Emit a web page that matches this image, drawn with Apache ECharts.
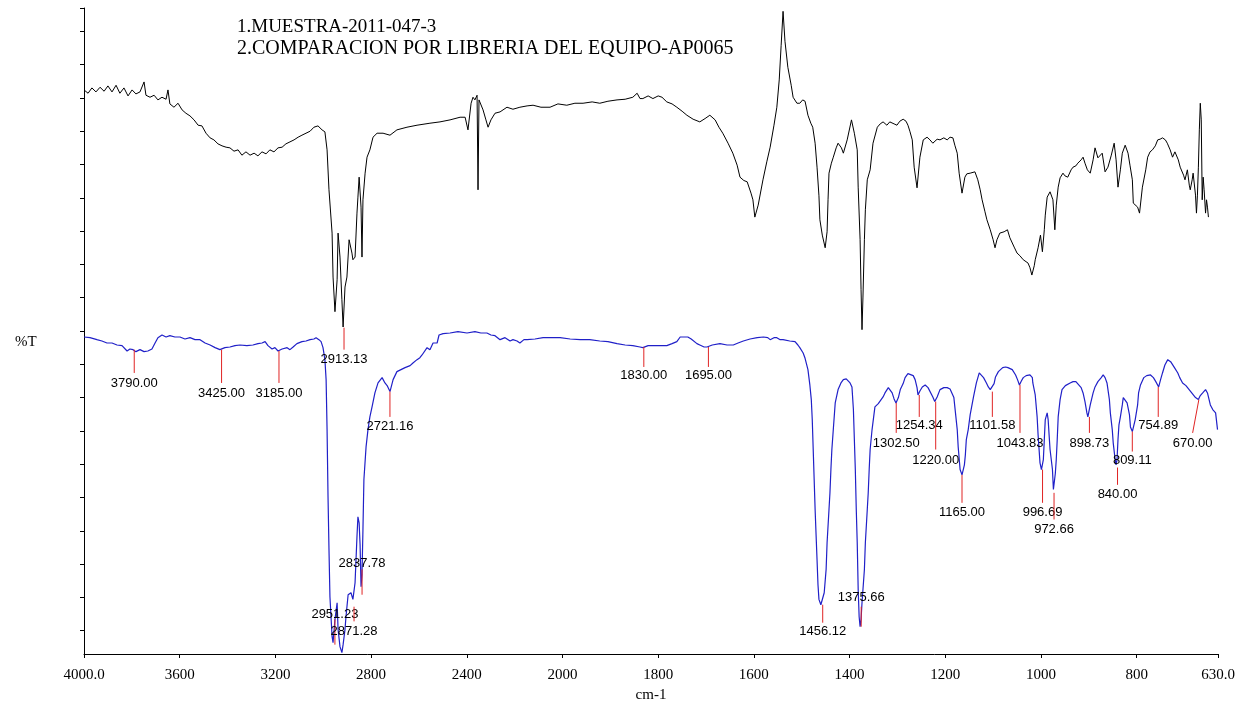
<!DOCTYPE html>
<html>
<head>
<meta charset="utf-8">
<script src="https://cdn.jsdelivr.net/npm/echarts@6/dist/echarts.min.js"></script>
<style>html,body{margin:0;padding:0;background:#fff;}#c{width:1254px;height:702px;}</style>
</head>
<body>
<div id="c"></div>
<script>
// ---- DATA (wavenumber cm-1, %T in arbitrary chart units) ----
const titleLines = ['1.MUESTRA-2011-047-3', '2.COMPARACION POR LIBRERIA DEL EQUIPO-AP0065'];
const tickWavenumbers = [4000, 3600, 3200, 2800, 2400, 2000, 1800, 1600, 1400, 1200, 1000, 800, 630];
const tickLabels = ['4000.0', '3600', '3200', '2800', '2400', '2000', '1800', '1600', '1400', '1200', '1000', '800', '630.0'];
const yTickValues = [0,5,10,15,20,25,30,35,40,45,50,55,60,65,70,75,80,85,90,93.5];

// Sample spectrum (black)
const sampleSpectrum = [[4000,81.2],[3983,80.7],[3967,81.5],[3950,80.9],[3933,81.6],[3916,81.0],[3900,81.8],[3883,80.9],[3866,81.9],[3850,80.7],[3833,81.5],[3816,80.3],[3799,81.2],[3783,80.6],[3766,80.9],[3749,82.4],[3741,80.4],[3724,80.1],[3707,80.4],[3691,79.7],[3674,80.1],[3657,79.8],[3649,81.2],[3641,79.1],[3624,78.6],[3607,79.2],[3590,78.2],[3574,77.7],[3557,77.3],[3540,76.7],[3523,75.9],[3507,75.8],[3490,74.7],[3473,74.0],[3457,73.7],[3440,73.1],[3423,72.8],[3406,72.6],[3390,72.5],[3373,72.0],[3356,72.2],[3340,71.4],[3323,71.9],[3306,71.4],[3289,71.7],[3273,71.3],[3256,71.9],[3239,71.6],[3223,72.2],[3206,71.9],[3189,72.5],[3172,72.6],[3156,73.1],[3139,73.4],[3122,73.7],[3105,74.1],[3089,74.4],[3072,74.7],[3055,75.0],[3039,75.6],[3022,75.8],[3005,75.2],[2993,74.9],[2984,72.2],[2976,66.2],[2963,59.7],[2959,53.1],[2951,47.9],[2942,52.7],[2938,59.7],[2930,56.1],[2922,49.7],[2917,45.6],[2909,51.6],[2901,53.1],[2892,58.7],[2880,56.7],[2876,55.7],[2867,56.1],[2859,62.7],[2855,65.1],[2850,68.1],[2842,63.6],[2838,56.1],[2834,64.7],[2825,68.7],[2817,71.1],[2805,72.2],[2792,74.1],[2775,74.7],[2750,74.7],[2721,74.4],[2692,75.2],[2650,75.6],[2608,75.9],[2554,76.2],[2512,76.4],[2470,76.7],[2428,77.1],[2407,77.1],[2395,75.2],[2382,79.2],[2374,80.1],[2366,79.7],[2357,80.4],[2353,66.2],[2349,79.7],[2341,79.9],[2332,78.2],[2320,76.7],[2311,75.6],[2299,76.7],[2282,77.7],[2261,77.9],[2232,78.6],[2207,78.3],[2178,78.6],[2148,78.8],[2123,78.9],[2090,78.6],[2052,78.6],[2019,79.1],[1991,78.9],[1974,79.2],[1957,79.2],[1938,79.4],[1922,79.2],[1905,79.5],[1886,79.7],[1869,79.8],[1853,80.1],[1844,80.7],[1838,79.9],[1832,79.9],[1821,80.3],[1811,79.9],[1800,80.3],[1792,80.1],[1782,79.4],[1771,79.1],[1761,78.6],[1750,78.0],[1740,77.4],[1727,76.8],[1713,76.4],[1702,76.9],[1692,77.4],[1681,76.7],[1673,75.6],[1665,74.7],[1654,73.2],[1644,71.7],[1635,69.9],[1629,68.1],[1621,67.6],[1614,67.4],[1606,65.7],[1602,64.7],[1598,62.1],[1591,63.9],[1581,67.7],[1573,70.4],[1566,72.6],[1558,75.9],[1552,78.6],[1547,82.7],[1543,87.9],[1539,93.0],[1535,88.5],[1529,84.6],[1522,81.9],[1518,80.1],[1510,79.2],[1504,79.2],[1498,79.7],[1493,79.5],[1487,77.4],[1481,76.2],[1477,75.6],[1472,73.2],[1468,69.6],[1464,65.3],[1462,61.7],[1457,59.4],[1451,57.5],[1447,59.9],[1445,64.7],[1443,68.7],[1438,70.2],[1434,71.1],[1428,72.5],[1424,73.2],[1417,72.5],[1413,71.7],[1405,73.7],[1396,76.7],[1390,74.7],[1384,72.2],[1382,66.6],[1378,58.7],[1376,51.2],[1374,45.2],[1372,50.1],[1369,58.7],[1367,63.2],[1363,67.7],[1357,69.2],[1351,73.2],[1342,75.6],[1336,76.1],[1330,76.4],[1322,75.9],[1316,76.4],[1307,76.1],[1301,75.9],[1295,76.5],[1288,76.8],[1282,76.5],[1278,75.9],[1274,75.0],[1269,73.7],[1265,69.6],[1259,66.5],[1253,71.1],[1246,73.7],[1238,74.1],[1232,73.7],[1226,73.2],[1217,73.8],[1211,73.7],[1203,74.0],[1196,73.7],[1190,74.1],[1184,74.0],[1180,72.9],[1175,71.7],[1171,68.7],[1165,65.7],[1159,68.1],[1155,68.6],[1148,68.7],[1138,68.9],[1132,67.7],[1127,66.2],[1123,64.7],[1117,62.9],[1113,61.7],[1106,60.2],[1100,58.7],[1096,57.5],[1092,58.7],[1086,59.7],[1077,59.9],[1070,60.2],[1065,59.0],[1056,57.6],[1050,56.7],[1044,56.3],[1037,55.7],[1033,56.0],[1027,55.2],[1023,54.5],[1019,53.4],[1014,54.8],[1012,55.7],[1006,57.5],[1001,59.4],[997,56.9],[993,60.2],[991,62.4],[987,65.1],[981,65.9],[975,64.7],[971,60.2],[968,63.9],[964,66.6],[960,68.0],[954,68.7],[950,68.3],[944,68.1],[937,69.2],[933,69.6],[927,69.8],[923,70.2],[916,70.7],[912,71.1],[908,70.2],[903,69.2],[897,68.7],[891,70.7],[887,72.5],[881,71.0],[877,71.3],[872,71.7],[866,68.9],[860,69.6],[853,71.4],[847,73.2],[843,70.7],[839,66.6],[834,69.2],[830,71.7],[824,72.9],[818,71.7],[814,69.9],[809,67.7],[807,64.2],[803,63.9],[798,63.6],[794,62.7],[788,66.6],[781,69.2],[777,71.1],[772,71.9],[767,72.2],[761,72.8],[756,73.7],[751,73.8],[746,74.0],[740,73.7],[736,73.2],[730,72.2],[725,71.1],[720,71.9],[713,70.7],[709,69.6],[702,68.4],[699,67.7],[694,69.2],[690,66.9],[688,66.2],[684,67.7],[682,68.7],[677,65.4],[675,62.7],[673,65.4],[671,69.6],[669,75.2],[667,79.2],[665,76.7],[663,64.7],[661,68.1],[659,66.2],[656,62.7],[654,64.7],[652,63.6],[650,62.1]];

// Library reference spectrum (blue)
const librarySpectrum = [[4000,44.1],[3975,44.0],[3946,43.7],[3925,43.5],[3904,43.2],[3883,43.2],[3862,42.9],[3841,42.8],[3820,42.0],[3808,42.3],[3795,42.2],[3783,41.9],[3766,42.2],[3749,41.9],[3733,42.0],[3716,42.3],[3703,43.2],[3691,44.0],[3674,44.4],[3657,44.1],[3641,44.3],[3620,44.1],[3599,44.1],[3578,43.8],[3557,44.0],[3536,43.7],[3515,43.7],[3494,43.2],[3473,42.9],[3452,42.5],[3432,42.2],[3411,42.5],[3390,42.6],[3369,42.8],[3348,42.9],[3319,42.8],[3294,42.9],[3273,43.1],[3256,43.2],[3243,43.4],[3231,42.8],[3214,42.3],[3202,42.5],[3189,42.0],[3172,42.3],[3151,42.5],[3139,42.2],[3126,42.6],[3110,43.1],[3089,43.4],[3072,43.5],[3055,43.7],[3039,43.8],[3030,44.0],[3018,43.7],[3009,43.4],[3001,42.5],[2993,40.7],[2988,37.7],[2984,30.2],[2980,20.1],[2976,12.2],[2972,5.1],[2963,-0.9],[2959,-1.8],[2951,1.7],[2942,4.2],[2938,0.2],[2930,-2.4],[2922,-3.3],[2917,-2.1],[2909,0.2],[2905,2.1],[2896,5.4],[2884,5.7],[2876,4.7],[2867,7.2],[2859,14.1],[2855,17.1],[2850,16.2],[2846,12.9],[2842,6.6],[2838,8.4],[2834,15.2],[2830,22.7],[2821,27.6],[2813,30.2],[2805,32.1],[2796,33.6],[2784,35.7],[2771,37.2],[2754,38.0],[2742,37.2],[2733,36.8],[2721,35.9],[2708,37.7],[2692,38.9],[2675,39.2],[2658,39.5],[2637,39.8],[2625,40.2],[2608,40.7],[2596,41.0],[2587,41.4],[2566,42.5],[2554,42.2],[2541,43.2],[2524,43.2],[2516,44.4],[2499,44.6],[2470,44.7],[2437,44.9],[2399,44.7],[2366,44.9],[2341,44.7],[2316,44.7],[2299,44.4],[2282,44.3],[2261,43.7],[2240,44.0],[2219,43.5],[2207,43.7],[2190,43.5],[2178,43.2],[2161,43.7],[2148,43.7],[2115,43.8],[2081,44.0],[2044,44.0],[2010,44.0],[1984,43.8],[1963,43.7],[1943,43.7],[1922,43.5],[1905,43.4],[1886,43.1],[1869,42.9],[1853,42.8],[1838,42.6],[1832,42.5],[1821,42.8],[1811,42.8],[1796,42.8],[1782,42.8],[1771,43.1],[1761,43.4],[1754,44.1],[1746,44.1],[1738,44.1],[1731,43.8],[1727,43.7],[1719,43.1],[1713,42.9],[1704,42.6],[1698,42.6],[1687,42.9],[1671,43.1],[1656,42.9],[1643,42.9],[1633,43.2],[1622,43.5],[1608,43.8],[1593,44.0],[1580,44.1],[1571,44.0],[1566,43.7],[1558,44.0],[1552,44.0],[1545,43.7],[1539,43.7],[1525,43.5],[1514,43.4],[1508,42.9],[1504,42.5],[1497,41.7],[1493,40.9],[1487,39.2],[1483,36.9],[1480,34.7],[1478,31.7],[1476,27.2],[1474,22.7],[1472,18.2],[1470,14.4],[1468,10.7],[1466,6.9],[1464,4.7],[1460,3.9],[1457,4.1],[1453,5.7],[1449,9.2],[1447,13.2],[1443,18.2],[1441,20.7],[1439,24.2],[1437,27.2],[1434,30.2],[1430,34.2],[1424,36.2],[1418,37.2],[1413,37.7],[1407,37.8],[1403,37.7],[1399,37.2],[1395,36.6],[1392,33.2],[1390,28.7],[1388,24.2],[1386,18.2],[1384,13.2],[1382,6.2],[1380,2.1],[1378,0.6],[1376,1.7],[1374,4.2],[1369,9.2],[1367,13.2],[1363,18.2],[1361,20.7],[1359,24.2],[1357,27.2],[1353,30.2],[1347,33.6],[1340,34.1],[1336,34.2],[1330,35.1],[1326,35.7],[1319,36.5],[1315,36.3],[1311,35.7],[1307,34.8],[1303,34.2],[1298,35.0],[1294,36.2],[1288,37.1],[1284,38.0],[1278,38.6],[1274,38.7],[1267,38.3],[1263,37.7],[1259,36.5],[1257,35.4],[1253,36.0],[1248,36.6],[1242,36.9],[1236,36.5],[1232,36.2],[1226,35.1],[1222,34.4],[1217,35.1],[1211,36.2],[1203,36.5],[1196,36.5],[1190,36.3],[1186,36.2],[1182,35.0],[1180,33.6],[1175,30.2],[1173,27.6],[1169,24.2],[1165,23.4],[1160,24.9],[1158,26.4],[1156,28.7],[1152,30.2],[1148,32.4],[1141,35.1],[1135,37.2],[1129,38.7],[1125,38.4],[1120,38.0],[1114,37.2],[1110,36.6],[1106,36.2],[1102,35.9],[1098,37.1],[1095,38.1],[1089,38.9],[1086,39.2],[1080,39.5],[1074,39.6],[1069,39.5],[1060,39.2],[1053,38.4],[1049,37.7],[1045,36.9],[1041,37.5],[1037,38.0],[1031,38.3],[1023,38.4],[1018,38.0],[1017,37.2],[1012,35.4],[1008,32.1],[1006,29.4],[1002,25.2],[999,24.2],[997,24.2],[995,25.7],[993,28.7],[991,31.7],[987,32.7],[985,31.7],[983,29.4],[981,27.2],[976,24.2],[974,21.2],[972,21.2],[970,23.6],[968,25.7],[966,28.7],[964,32.1],[960,34.7],[956,36.2],[949,36.8],[945,36.9],[939,37.2],[933,37.4],[927,37.4],[923,37.2],[916,36.5],[912,35.7],[908,34.4],[904,32.7],[902,32.1],[897,33.9],[891,35.7],[887,36.6],[881,37.4],[874,38.0],[870,38.4],[866,38.0],[862,37.2],[857,34.7],[855,32.7],[851,30.2],[849,28.2],[845,25.7],[843,24.9],[841,25.7],[839,28.7],[837,30.9],[834,32.1],[830,33.9],[828,35.0],[824,34.8],[820,34.2],[815,32.4],[813,30.6],[809,29.9],[807,30.5],[803,31.7],[798,33.9],[796,35.7],[792,36.9],[785,38.0],[779,38.3],[771,38.4],[765,38.0],[760,37.4],[754,36.6],[750,37.7],[746,38.7],[741,39.9],[735,40.7],[729,40.4],[725,40.2],[721,39.5],[714,38.7],[710,38.0],[704,37.2],[697,36.8],[693,36.5],[687,35.9],[683,35.7],[677,35.0],[671,34.7],[667,35.3],[662,35.7],[656,36.2],[652,35.7],[650,35.1],[646,33.9],[641,33.2],[637,33.0],[635,32.7],[631,30.2]];

// Peak annotations
const peakLabels = ['3790.00','3425.00','3185.00','2951.23','2913.13','2871.28','2837.78','2721.16','1830.00','1695.00','1456.12','1375.66','1302.50','1254.34','1220.00','1165.00','1101.58','1043.83','996.69','972.66','898.73','840.00','809.11','754.89','670.00'];
const peakWavenumbers = [3790,3425,3185,2951.23,2913.13,2871.28,2837.78,2721.16,1830,1695,1456.12,1375.66,1302.5,1254.34,1220,1165,1101.58,1043.83,996.69,972.66,898.73,840,809.11,754.89,670];
const peakLabelWavenumbers = [3790,3425,3185,2951.23,2913.13,2871.28,2837.78,2721.16,1830,1695,1456.12,1375.66,1302.5,1254.34,1220,1165,1101.58,1043.83,996.69,972.66,898.73,840,809.11,754.89,683];
const peakTopT =    [42.2,42.2,42.0,1.7,45.5,3.6,9.2,35.9,42.6,42.6,3.9,3.6,34.2,35.4,34.4,23.4,35.9,36.9,24.2,20.7,32.1,24.5,29.9,36.6,34.7];
const peakBottomT = [38.7,37.2,37.2,-2.1,42.2,1.4,5.4,32.1,39.6,39.6,1.2,0.6,29.7,32.1,27.2,19.2,32.1,29.7,19.2,16.7,29.7,21.9,26.9,32.1,29.7];
const peakLabelT =  [37.5,36.0,36.0,2.7,41.0,0.2,10.4,30.9,38.6,38.6,0.2,5.3,28.4,31.1,25.8,18.0,31.1,28.4,18.0,15.5,28.4,20.7,25.8,31.1,28.4];

// ---- Axis transform: spectrometer x scale changes at 2000 cm-1 (400/div above, 200/div below)
function xu(w) { return w >= 2000 ? (4000 - w) / 400 : 5 + (2000 - w) / 200; }
const xTickPos = tickWavenumbers.map(xu);

const chart = echarts.init(document.getElementById('c'), null, { renderer: 'canvas' });
const serif = '"Liberation Serif", "Times New Roman", serif';
const sans = '"Liberation Sans", Arial, sans-serif';

chart.setOption({
  animation: false,
  backgroundColor: '#fff',
  title: {
    text: '{a|' + titleLines[0] + '}\n{b|' + titleLines[1] + '}',
    left: 237, top: 16, padding: 0,
    textStyle: {
      fontFamily: serif, fontWeight: 'normal', color: '#000',
      rich: {
        a: { fontFamily: serif, fontSize: 19, lineHeight: 22, color: '#000' },
        b: { fontFamily: serif, fontSize: 20, lineHeight: 22, color: '#000' }
      }
    }
  },
  graphic: [
    { type: 'text', x: 15, y: 342,
      style: { text: '%T', font: '15px ' + serif, fill: '#000', verticalAlign: 'middle', align: 'left' } }
  ],
  grid: { left: 84, right: 36, top: 8, bottom: 48, containLabel: false, outerBoundsMode: 'none' },
  xAxis: {
    type: 'value', min: 0, max: xu(630),
    name: 'cm-1', nameLocation: 'middle', nameGap: 33,
    nameTextStyle: { fontFamily: serif, fontSize: 15, color: '#000' },
    axisLine: { onZero: false, lineStyle: { color: '#000', width: 1 } },
    axisTick: { show: true, length: 4, lineStyle: { color: '#000' }, customValues: xTickPos },
    axisLabel: {
      customValues: xTickPos, margin: 14, color: '#000', fontFamily: serif, fontSize: 15,
      formatter: function (v) {
        let best = 0, d = Infinity;
        xTickPos.forEach((p, i) => { if (Math.abs(p - v) < d) { d = Math.abs(p - v); best = i; } });
        return tickLabels[best];
      }
    },
    splitLine: { show: false }
  },
  yAxis: {
    type: 'value', min: -3.5, max: 93.5,
    axisLine: { onZero: false, lineStyle: { color: '#000', width: 1 } },
    axisTick: { show: true, length: 4, lineStyle: { color: '#000' }, customValues: yTickValues },
    axisLabel: { show: false },
    splitLine: { show: false }
  },
  series: [
    {
      type: 'line', name: 'Muestra', showSymbol: false, symbol: 'none',
      lineStyle: { color: '#000', width: 1 }, z: 3,
      data: sampleSpectrum.map(p => [xu(p[0]), p[1]])
    },
    {
      type: 'line', name: 'Libreria', showSymbol: false, symbol: 'none',
      lineStyle: { color: '#2020c8', width: 1.2 }, z: 3,
      data: librarySpectrum.map(p => [xu(p[0]), p[1]])
    },
    {
      type: 'custom', name: 'peaks', z: 5, clip: false,
      data: peakWavenumbers.map((w, i) => [xu(w), peakTopT[i]]),
      renderItem: function (params, api) {
        const i = params.dataIndex;
        const p1 = api.coord([xu(peakWavenumbers[i]), peakTopT[i]]);
        const p2 = api.coord([xu(peakLabelWavenumbers[i]), peakBottomT[i]]);
        const pl = api.coord([xu(peakLabelWavenumbers[i]), peakLabelT[i]]);
        return {
          type: 'group',
          children: [
            { type: 'line', shape: { x1: p1[0], y1: p1[1], x2: p2[0], y2: p2[1] },
              style: { stroke: '#e02424', lineWidth: 1 } },
            { type: 'text', x: pl[0], y: pl[1] + 2,
              style: { text: peakLabels[i], align: 'center', verticalAlign: 'middle',
                       font: '13px ' + sans, fill: '#000' } }
          ]
        };
      }
    }
  ]
});
</script>
</body>
</html>
